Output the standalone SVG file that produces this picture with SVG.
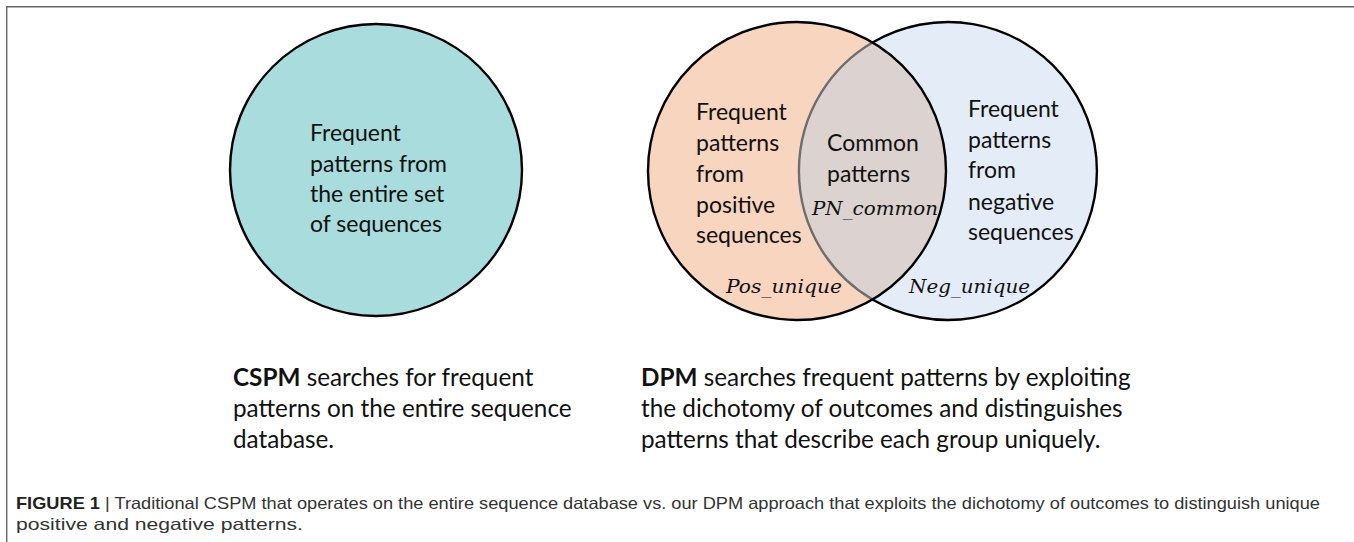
<svg xmlns="http://www.w3.org/2000/svg" width="1354" height="542" viewBox="0 0 1354 542">
  <style>
    .lbl { font-family: Lato, "Open Sans", sans-serif; font-size: 23px; fill: #111; }
    .math { font-family: "DejaVu Serif", "Liberation Serif", serif; font-style: italic; font-size: 19px; fill: #111; }
    .desc { font-family: Lato, "Open Sans", sans-serif; font-size: 24.3px; fill: #111; }
    .desc .b { font-weight: bold; }
    .cap { font-family: "Liberation Sans Narrow", "Liberation Sans", sans-serif; font-size: 16.5px; fill: #333; }
    .cap .b { font-weight: bold; fill: #222; }
    .ring { stroke: #000; stroke-width: 2.4; fill: none; }
    .ring-soft { stroke: #6E6E6E; stroke-width: 2.4; fill: none; }
  </style>

  <!-- frame: top and left rules -->
  <g id="frame" stroke="#666" stroke-width="1.4" fill="none">
    <line x1="6" y1="6.7" x2="1354" y2="6.7"/>
    <line x1="6.7" y1="6" x2="6.7" y2="542"/>
  </g>

  <!-- CSPM: single set of all sequences -->
  <g id="cspm">
    <circle cx="376" cy="170" r="146" fill="#A9DCDC" stroke="#000" stroke-width="2.4"/>
    <text class="lbl" x="310" y="141">Frequent</text>
    <text class="lbl" x="310" y="172">patterns from</text>
    <text class="lbl" x="310" y="202">the entire set</text>
    <text class="lbl" x="310" y="232">of sequences</text>
  </g>

  <!-- DPM: positive / negative Venn -->
  <g id="neg-set">
    <circle cx="948" cy="171" r="149" fill="#E4ECF7"/>
  </g>
  <g id="pos-set">
    <circle cx="797" cy="171" r="149" fill="#F7D5BF"/>
  </g>
  <g id="common-set">
    <path d="M 872.5 42.5 A 149 149 0 0 1 872.5 299.5 A 149 149 0 0 1 872.5 42.5 Z" fill="#DCD2CF"/>
  </g>

  <!-- outlines -->
  <g id="outlines">
    <path class="ring" d="M 872.5 42.5 A 149 149 0 1 1 872.5 299.5"/>
    <path class="ring-soft" d="M 872.5 299.5 A 149 149 0 0 1 872.5 42.5"/>
    <circle class="ring" cx="797" cy="171" r="149"/>
  </g>

  <g id="pos-labels">
    <text class="lbl" x="696" y="120">Frequent</text>
    <text class="lbl" x="696" y="151">patterns</text>
    <text class="lbl" x="696" y="182">from</text>
    <text class="lbl" x="696" y="213">positive</text>
    <text class="lbl" x="696" y="243">sequences</text>
    <text class="math" x="726" y="293" textLength="116" lengthAdjust="spacingAndGlyphs">Pos_unique</text>
  </g>
  <g id="common-labels">
    <text class="lbl" x="827" y="151">Common</text>
    <text class="lbl" x="827" y="182">patterns</text>
    <text class="math" x="812" y="215" textLength="126" lengthAdjust="spacingAndGlyphs">PN_common</text>
  </g>
  <g id="neg-labels">
    <text class="lbl" x="968" y="117">Frequent</text>
    <text class="lbl" x="968" y="148">patterns</text>
    <text class="lbl" x="968" y="178">from</text>
    <text class="lbl" x="968" y="210">negative</text>
    <text class="lbl" x="968" y="240">sequences</text>
    <text class="math" x="909" y="293" textLength="121" lengthAdjust="spacingAndGlyphs">Neg_unique</text>
  </g>

  <!-- descriptions -->
  <g id="cspm-desc" class="desc">
    <text x="233" y="386"><tspan class="b">CSPM</tspan> searches for frequent</text>
    <text x="233" y="417">patterns on the entire sequence</text>
    <text x="233" y="448">database.</text>
  </g>
  <g id="dpm-desc" class="desc">
    <text x="641" y="386"><tspan class="b">DPM</tspan> searches frequent patterns by exploiting</text>
    <text x="641" y="417">the dichotomy of outcomes and distinguishes</text>
    <text x="641" y="448">patterns that describe each group uniquely.</text>
  </g>

  <!-- caption -->
  <g id="caption" class="cap">
    <text x="16" y="509" textLength="1304" lengthAdjust="spacingAndGlyphs"><tspan class="b">FIGURE 1</tspan> | Traditional CSPM that operates on the entire sequence database vs. our DPM approach that exploits the dichotomy of outcomes to distinguish unique</text>
    <text x="16" y="530" textLength="287" lengthAdjust="spacingAndGlyphs">positive and negative patterns.</text>
  </g>
</svg>
